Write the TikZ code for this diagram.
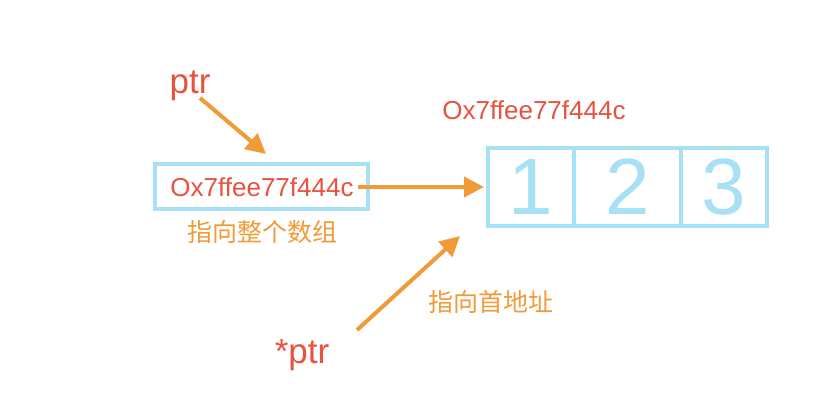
\documentclass[tikz,border=0pt]{standalone}
\usepackage{fontspec}
\setmainfont{Liberation Sans}
\newfontfamily\cjk{Noto Sans CJK SC}
\usetikzlibrary{arrows.meta}
\definecolor{txtred}{HTML}{E8533F}
\definecolor{arrorange}{HTML}{F19A38}
\definecolor{boxblue}{HTML}{A8E1F6}
\tikzset{
  redtxt/.style={text=txtred, inner sep=0pt},
  cntxt/.style={text=arrorange, inner sep=0pt, font=\cjk\fontsize{25}{30}\selectfont},
  ptrarrow/.style={draw=arrorange, line width=4pt, -{Triangle[length=20pt,width=20pt]}},
  bluebox/.style={draw=boxblue, line width=3.5pt},
  digit/.style={text=boxblue, inner sep=0pt, font=\fontsize{80}{90}\selectfont}
}
\begin{document}
\begin{tikzpicture}[x=1pt,y=-1pt]
\useasboundingbox[fill=white] (0,0) rectangle (826,412);
% labels
\node[redtxt, font=\fontsize{35}{40}\selectfont] (ptr) at (190,86) {ptr};
\node[redtxt, font=\fontsize{35}{40}\selectfont] (sptr) at (302,355) {*ptr};
% pointer box
\draw[bluebox] (155,164) rectangle (368,209);
\node[redtxt, font=\fontsize{26}{30}\selectfont] (addr) at (262,187) {Ox7ffee77f444c};
\node[cntxt] (whole) at (262,232) {指向整个数组};
% array
\draw[bluebox] (488,148) rectangle (767,226);
\draw[bluebox] (574,148) -- (574,226);
\draw[bluebox] (681,148) -- (681,226);
\node[digit] (d1) at (531,187) {1};
\node[digit] (d2) at (628,187) {2};
\node[digit] (d3) at (724,187) {3};
\node[redtxt, font=\fontsize{26}{30}\selectfont] (aaddr) at (534,110) {Ox7ffee77f444c};
\node[cntxt] (first) at (491,302) {指向首地址};
% connectors
\coordinate (p1s) at (200,98);
\coordinate (p1e) at (266,154);
\draw[ptrarrow] (p1s) -- (p1e);
\coordinate (a1s) at (358,187);
\coordinate (a1e) at (484,187);
\draw[ptrarrow] (a1s) -- (a1e);
\coordinate (p2s) at (357,330);
\coordinate (p2e) at (460,236);
\draw[ptrarrow] (p2s) -- (p2e);
\end{tikzpicture}
\end{document}
